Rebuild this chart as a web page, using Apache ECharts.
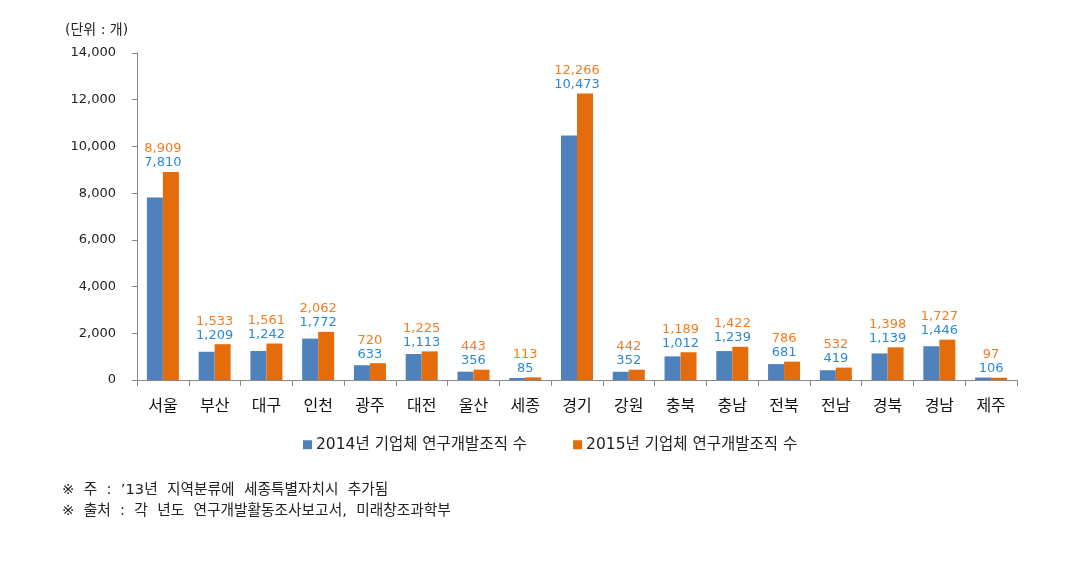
<!DOCTYPE html>
<html><head><meta charset="utf-8">
<script src="https://cdn.jsdelivr.net/npm/echarts@6/dist/echarts.min.js"></script>
<style>html,body{margin:0;padding:0;background:#fff}#c{width:1087px;height:574px}</style>
</head><body><div id="c"></div>
<script>
const categories = ['서울','부산','대구','인천','광주','대전','울산','세종','경기','강원','충북','충남','전북','전남','경북','경남','제주'];
const values2014 = [7810,1209,1242,1772,633,1113,356,85,10473,352,1012,1239,681,419,1139,1446,106];
const values2015 = [8909,1533,1561,2062,720,1225,443,113,12266,442,1189,1422,786,532,1398,1727,97];
const seriesNames = ['2014년 기업체 연구개발조직 수','2015년 기업체 연구개발조직 수'];
const yTicks = {min:0, max:14000, interval:2000};
const unitText = '(단위 : 개)';
const notes = ['※  주  :  \u201913년  지역분류에  세종특별자치시  추가됨','※  출처  :  각  년도  연구개발활동조사보고서,  미래창조과학부'];

const font = '"DejaVu Sans", "Noto Sans CJK KR", sans-serif';
const fmt = v => v.toLocaleString('en-US');
const chart = echarts.init(document.getElementById('c'));
chart.setOption({
  animation:false,
  textStyle:{fontFamily:font},
  grid:{left:137,right:70,top:53,bottom:194},
  legend:{
    data:seriesNames, top:432, left:298, itemWidth:9, itemHeight:9, itemGap:46,
    icon:'rect', textStyle:{fontSize:15.5,color:'#222',fontFamily:font,padding:[0,0,0,-1]}
  },
  graphic:[
    {type:'text',left:65,top:23,style:{text:unitText,font:'14px '+font,fill:'#222'}},
    {type:'text',left:62,top:483,style:{text:notes[0],font:'14.7px '+font,fill:'#222'}},
    {type:'text',left:62,top:504,style:{text:notes[1],font:'14.7px '+font,fill:'#222'}}
  ],
  xAxis:{
    type:'category', data:categories,
    axisLine:{lineStyle:{color:'#888',width:1}},
    axisTick:{show:true,length:6,lineStyle:{color:'#888'}},
    axisLabel:{fontSize:16,color:'#111',margin:19,fontFamily:font}
  },
  yAxis:{
    type:'value', min:yTicks.min, max:yTicks.max, interval:yTicks.interval,
    splitLine:{show:false},
    axisLine:{show:true,lineStyle:{color:'#888'}},
    axisTick:{show:true,length:5,lineStyle:{color:'#888'}},
    axisLabel:{fontSize:13,color:'#222',margin:21,formatter:v=>fmt(v),fontFamily:font}
  },
  series:[
    {name:seriesNames[0],type:'bar',data:values2014,barWidth:16,barGap:'0%',itemStyle:{color:'#4F81BD'}},
    {name:seriesNames[1],type:'bar',data:values2015,barWidth:16,itemStyle:{color:'#E46C0A'},
      label:{show:true,position:'top',offset:[-8,0],distance:2,
        formatter:p=>'{o|'+fmt(p.value)+'}\n{b|'+fmt(values2014[p.dataIndex])+'}',
        rich:{o:{color:'#F47D20',fontSize:13,lineHeight:14,fontFamily:font},
              b:{color:'#2A8AD6',fontSize:13,lineHeight:14,fontFamily:font}}}
    }
  ]
});
</script></body></html>
